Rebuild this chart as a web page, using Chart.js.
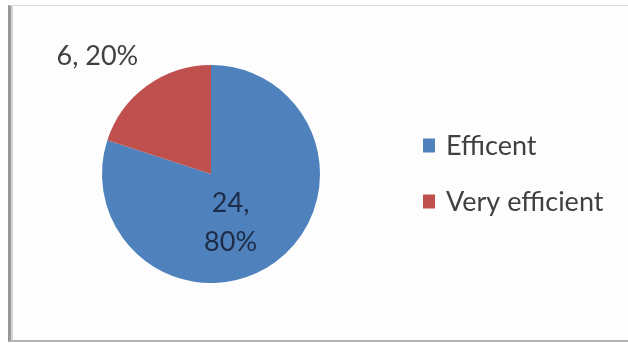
<!DOCTYPE html>
<html>
<head>
<meta charset="utf-8">
<script src="https://cdn.jsdelivr.net/npm/chart.js@4/dist/chart.umd.min.js"></script>
<style>
  html, body { margin: 0; padding: 0; background: #fff; }
  #wrap { position: relative; width: 628px; height: 343px; overflow: hidden; }
  #frame {
    position: absolute; left: 8px; top: 5px; width: 660px; height: 334px;
    border-left: 3px solid #999; border-top: 1px solid #dcdcdc; border-bottom: 2px solid #b4b4b4;
    box-shadow: inset 2px 0 0 #d6d6d6;
    background: #fdfdfd;
  }
  #chart { position: absolute; left: 0; top: 0; }
</style>
</head>
<body>
<div id="wrap">
  <div id="frame"></div>
  <canvas id="chart" width="628" height="343"></canvas>
</div>
<script>
const categories = ["Efficent", "Very efficient"]
const counts = [24, 6]
const colors = ["#4f81bd", "#c0504d"]

const FONT = "Lato, 'Open Sans', sans-serif"

// value + share labels, placed along each slice's mid angle
const sliceLabels = {
  id: "sliceLabels",
  afterDatasetsDraw(chart, args, opts) {
    const ctx = chart.ctx
    const data = chart.data.datasets[0].data
    const total = data.reduce((a, b) => a + b, 0)
    chart.getDatasetMeta(0).data.forEach((arc, i) => {
      const p = arc.getProps(["x", "y", "startAngle", "endAngle", "outerRadius"], true)
      const place = opts.place[i]
      const mid = (p.startAngle + p.endAngle) / 2 + place.turn * Math.PI / 180
      const d = p.outerRadius * place.r
      const cx = p.x + Math.cos(mid) * d
      const cy = p.y + Math.sin(mid) * d
      const pct = Math.round(data[i] / total * 100) + "%"
      const lines = place.wrap ? [data[i] + ",", pct] : [data[i] + ", " + pct]
      ctx.save()
      ctx.font = opts.font
      ctx.fillStyle = place.color
      ctx.textAlign = "center"
      ctx.textBaseline = "middle"
      const top = cy - (lines.length - 1) * opts.lineHeight / 2
      lines.forEach((t, k) => ctx.fillText(t, cx, top + k * opts.lineHeight))
      ctx.restore()
    })
  }
}

// legend on the right, square swatch + label
const sideLegend = {
  id: "sideLegend",
  afterDraw(chart, args, opts) {
    const ctx = chart.ctx
    const ds = chart.data.datasets[0]
    ctx.save()
    ctx.font = opts.font
    ctx.textBaseline = "middle"
    chart.data.labels.forEach((label, i) => {
      const y = opts.y + i * opts.gap
      ctx.fillStyle = ds.backgroundColor[i]
      ctx.fillRect(opts.x, y - opts.box / 2, opts.box - 1, opts.box + 1)
      ctx.fillStyle = opts.color
      ctx.fillText(label, opts.x + opts.box + 10, y + 1)
    })
    ctx.restore()
  }
}

new Chart(document.getElementById("chart"), {
  type: "pie",
  data: {
    labels: categories,
    datasets: [{
      data: counts,
      backgroundColor: colors,
      borderWidth: 0
    }]
  },
  options: {
    responsive: false,
    animation: false,
    layout: { padding: { left: 102, right: 308, top: 62, bottom: 57 } },
    plugins: {
      legend: { display: false },
      tooltip: { enabled: false },
      sliceLabels: {
        font: "27px " + FONT,
        lineHeight: 39,
        place: [
          { r: 0.48, turn: 14, wrap: true, color: "#1d2c47" },
          { r: 1.5, turn: -8, wrap: false, color: "#404040" }
        ]
      },
      sideLegend: { x: 423, y: 145, gap: 56, box: 13, font: "27px " + FONT, color: "#404040" }
    }
  },
  plugins: [sliceLabels, sideLegend]
})
</script>
</body>
</html>
